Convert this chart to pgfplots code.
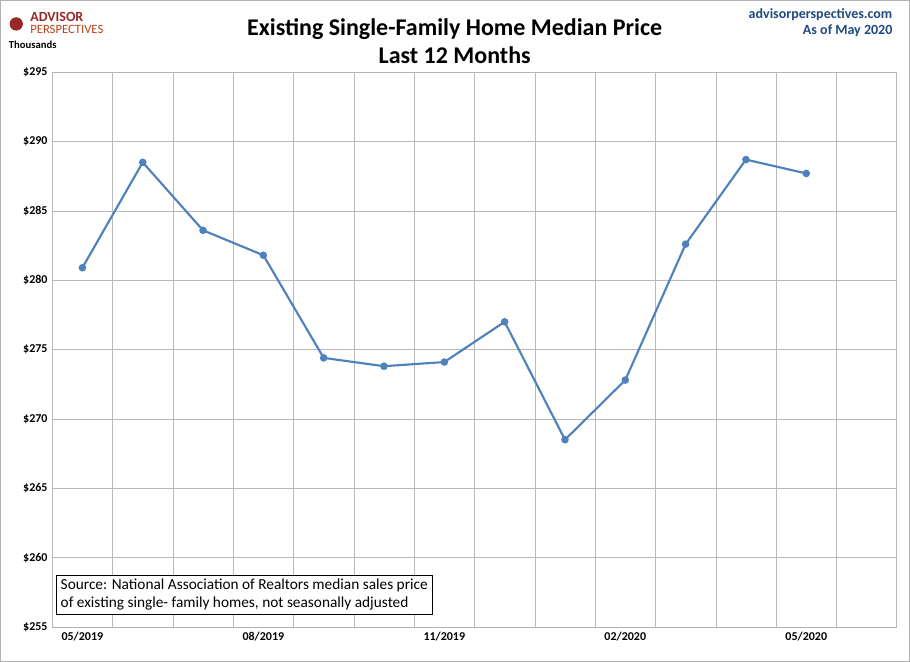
\documentclass[border=0pt]{standalone}
\usepackage{pgfplots}
\pgfplotsset{compat=1.18}
\usepackage{fontspec}
\setmainfont{Carlito}
\definecolor{ln}{RGB}{79,129,189}
\definecolor{nv}{RGB}{31,73,125}
\definecolor{rd}{RGB}{150,40,40}
\begin{document}
\begin{tikzpicture}
\draw[gray!60] (0,0) rectangle (682.5pt,495.75pt);
\begin{axis}[at={(39pt,25.5pt)},anchor=south west,scale only axis,
 width=633.75pt,height=416.25pt,
 xmin=-0.5,xmax=13.5,ymin=255,ymax=295,
 xtick={0,3,6,9,12},xticklabels={05/2019,08/2019,11/2019,02/2020,05/2020},
 extra x ticks={-0.5,0.5,...,13.5},extra x tick labels={},
 extra x tick style={grid=major,major tick length=0pt},
 ytick={255,260,...,295},yticklabel={\$\pgfmathprintnumber{\tick}},
 /pgf/number format/assume math mode=true,
 ymajorgrids,major grid style={gray!55},
 tick style={draw=none},axis line style={gray!60},
 ticklabel style={font=\bfseries\fontsize{9}{10}\selectfont},
]
\addplot[ln,line width=1.6pt,mark=*,mark size=2pt] coordinates {
(0,280.9)(1,288.5)(2,283.6)(3,281.8)(4,274.4)(5,273.8)(6,274.1)(7,277.0)(8,268.5)(9,272.8)(10,282.6)(11,288.7)(12,287.7)};
\node[draw=black,fill=white,anchor=south west,align=left,font=\fontsize{11.5}{13.5}\selectfont,inner sep=3pt] at (axis cs:-0.43,255.9) {Source: National Association of Realtors median sales price\\of existing single- family homes, not seasonally adjusted};
\end{axis}
\node[font=\bfseries\fontsize{18}{21}\selectfont,align=center] at (341pt,465pt) {Existing Single-Family Home Median Price\\Last 12 Months};
\node[anchor=west,font=\bfseries\fontsize{10.5}{12}\selectfont,text=rd] at (19pt,483pt) {ADVISOR};
\node[anchor=west,font=\fontsize{9.5}{11}\selectfont,text=rd!70!orange] at (19pt,474pt) {PERSPECTIVES};
\fill[rd] (12pt,478pt) circle (5pt);
\node[anchor=west,font=\bfseries\fontsize{8}{9}\selectfont] at (3pt,462pt) {Thousands};
\node[anchor=east,font=\bfseries\fontsize{10.5}{12.5}\selectfont,text=nv,align=right] at (673pt,479pt) {advisorperspectives.com\\As of May 2020};
\end{tikzpicture}
\end{document}
